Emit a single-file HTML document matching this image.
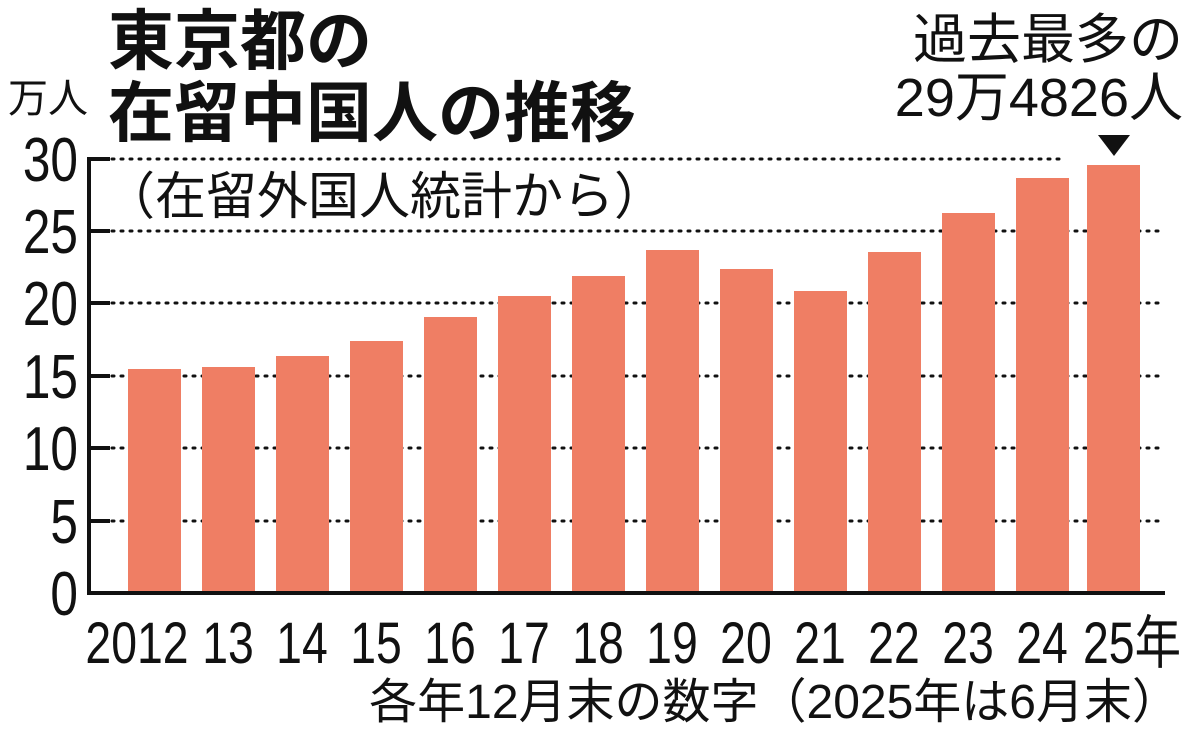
<!DOCTYPE html><html><head><meta charset="utf-8"><style>
body{margin:0;background:#fff;width:1200px;height:737px;overflow:hidden}
svg text{font-family:"Liberation Sans","Noto Sans CJK JP",sans-serif;fill:#111}
</style></head><body>
<svg width="1200" height="737" viewBox="0 0 1200 737">
<g stroke="#111" stroke-width="3" stroke-dasharray="2 7" stroke-linecap="round">
<line x1="112" y1="159" x2="1062" y2="159"/>
<line x1="112" y1="231" x2="1165" y2="231"/>
<line x1="112" y1="303" x2="1165" y2="303"/>
<line x1="112" y1="376" x2="1165" y2="376"/>
<line x1="112" y1="448" x2="1165" y2="448"/>
<line x1="112" y1="521" x2="1165" y2="521"/>
</g>
<g fill="#EF7E64">
<rect x="128" y="369" width="53" height="224"/>
<rect x="202" y="367" width="53" height="226"/>
<rect x="276" y="356" width="53" height="237"/>
<rect x="350" y="341" width="53" height="252"/>
<rect x="424" y="317" width="53" height="276"/>
<rect x="498" y="296" width="53" height="297"/>
<rect x="572" y="276" width="53" height="317"/>
<rect x="646" y="250" width="53" height="343"/>
<rect x="720" y="269" width="53" height="324"/>
<rect x="794" y="291" width="53" height="302"/>
<rect x="868" y="252" width="53" height="341"/>
<rect x="942" y="213" width="53" height="380"/>
<rect x="1016" y="178" width="53" height="415"/>
<rect x="1087" y="165" width="53" height="428"/>
</g>
<g stroke="#111" stroke-width="4" fill="none">
<polyline points="110,159 89,159 89,593 1165,593"/>
<line x1="89" y1="231" x2="110" y2="231"/><line x1="89" y1="303" x2="110" y2="303"/>
<line x1="89" y1="376" x2="110" y2="376"/><line x1="89" y1="448" x2="110" y2="448"/>
<line x1="89" y1="521" x2="110" y2="521"/>
</g>
<g font-size="62" text-anchor="end">
<text x="78" y="181" transform="translate(78 0) scale(0.8 1) translate(-78 0)">30</text>
<text x="78" y="253" transform="translate(78 0) scale(0.8 1) translate(-78 0)">25</text>
<text x="78" y="325" transform="translate(78 0) scale(0.8 1) translate(-78 0)">20</text>
<text x="78" y="398" transform="translate(78 0) scale(0.8 1) translate(-78 0)">15</text>
<text x="78" y="470" transform="translate(78 0) scale(0.8 1) translate(-78 0)">10</text>
<text x="78" y="543" transform="translate(78 0) scale(0.8 1) translate(-78 0)">5</text>
<text x="78" y="615" transform="translate(78 0) scale(0.8 1) translate(-78 0)">0</text>
</g>
<g font-size="58" text-anchor="middle">
<text x="137" y="663" transform="translate(137 0) scale(0.8 1) translate(-137 0)">2012</text>
<text x="228" y="663" transform="translate(228 0) scale(0.8 1) translate(-228 0)">13</text>
<text x="302" y="663" transform="translate(302 0) scale(0.8 1) translate(-302 0)">14</text>
<text x="376" y="663" transform="translate(376 0) scale(0.8 1) translate(-376 0)">15</text>
<text x="450" y="663" transform="translate(450 0) scale(0.8 1) translate(-450 0)">16</text>
<text x="524" y="663" transform="translate(524 0) scale(0.8 1) translate(-524 0)">17</text>
<text x="598" y="663" transform="translate(598 0) scale(0.8 1) translate(-598 0)">18</text>
<text x="672" y="663" transform="translate(672 0) scale(0.8 1) translate(-672 0)">19</text>
<text x="746" y="663" transform="translate(746 0) scale(0.8 1) translate(-746 0)">20</text>
<text x="820" y="663" transform="translate(820 0) scale(0.8 1) translate(-820 0)">21</text>
<text x="894" y="663" transform="translate(894 0) scale(0.8 1) translate(-894 0)">22</text>
<text x="968" y="663" transform="translate(968 0) scale(0.8 1) translate(-968 0)">23</text>
<text x="1042" y="663" transform="translate(1042 0) scale(0.8 1) translate(-1042 0)">24</text>
<text x="1132" y="663" transform="translate(1132 0) scale(0.8 1) translate(-1132 0)">25年</text>
</g>
<text x="8" y="112" font-size="40">万人</text>
<text x="108" y="64" font-size="66" font-weight="bold">東京都の</text>
<text x="108" y="136" font-size="66" font-weight="bold">在留中国人の推移</text>
<text x="104" y="214" font-size="51">（在留外国人統計から）</text>
<text x="1183" y="58" font-size="54" text-anchor="end">過去最多の</text>
<text x="1183" y="116" font-size="54" text-anchor="end">29万4826人</text>
<polygon points="1098,135 1130,135 1114,156" fill="#111"/>
<text x="1180" y="718" font-size="48" text-anchor="end">各年12月末の数字（2025年は6月末）</text>
</svg>
</body></html>
